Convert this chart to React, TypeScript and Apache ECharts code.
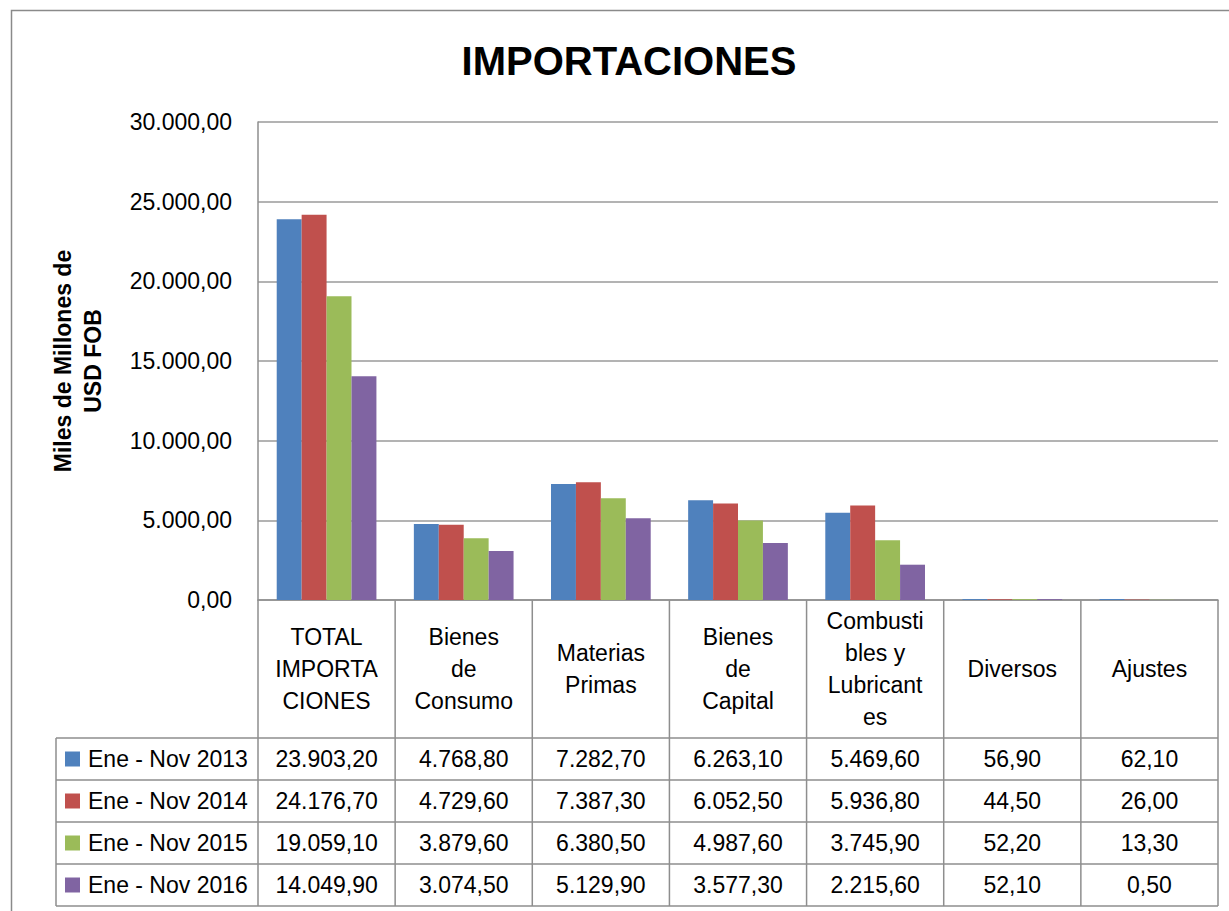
import React, { useEffect, useRef } from "react";
import * as echarts from "echarts";

const categories = [
  "TOTAL\nIMPORTA\nCIONES",
  "Bienes\nde\nConsumo",
  "Materias\nPrimas",
  "Bienes\nde\nCapital",
  "Combusti\nbles y\nLubricant\nes",
  "Diversos",
  "Ajustes",
];
const seriesNames = ["Ene - Nov 2013", "Ene - Nov 2014", "Ene - Nov 2015", "Ene - Nov 2016"];
const v2013 = [23903.2, 4768.8, 7282.7, 6263.1, 5469.6, 56.9, 62.1];
const v2014 = [24176.7, 4729.6, 7387.3, 6052.5, 5936.8, 44.5, 26.0];
const v2015 = [19059.1, 3879.6, 6380.5, 4987.6, 3745.9, 52.2, 13.3];
const v2016 = [14049.9, 3074.5, 5129.9, 3577.3, 2215.6, 52.1, 0.5];
const seriesValues = [v2013, v2014, v2015, v2016];
const colors = ["#4F81BD", "#C0504D", "#9BBB59", "#8064A2"];
const yTicks = { min: 0, max: 30000, interval: 5000 };

const FONT = "'Liberation Sans', Arial, sans-serif";

function fmt(v: number): string {
  const [i, d] = v.toFixed(2).split(".");
  return i.replace(/\B(?=(\d{3})+(?!\d))/g, ".") + "," + d;
}

export default function App() {
  const ref = useRef<HTMLDivElement>(null);
  useEffect(() => {
    if (!ref.current) return;
    const chart = echarts.init(ref.current, undefined, { renderer: "svg" });

    const gLeft = 258;
    const gTop = 122;
    const gWidth = 960;
    const gHeight = 478;
    const gBottom = gTop + gHeight;
    const colW = gWidth / categories.length;
    const catRowBottom = 738;
    const rowH = 42;
    const tableLeft = 56;
    const tableRight = gLeft + gWidth;
    const tableBottom = catRowBottom + rowH * seriesNames.length;
    const lineColor = "#8e8e8e";

    const graphics: any[] = [];
    // outer chart border
    graphics.push({
      type: "rect",
      shape: { x: 11.5, y: 10.5, width: 1300, height: 1000 },
      style: { fill: "none", stroke: "#8a8a8a", lineWidth: 1.5 },
      silent: true,
    });
    graphics.push({
      type: "text",
      x: 629,
      y: 61,
      style: {
        text: "IMPORTACIONES",
        font: `bold 40px ${FONT}`,
        fill: "#000",
        align: "center",
        verticalAlign: "middle",
      },
    });
    graphics.push({
      type: "text",
      x: 78,
      y: 361,
      rotation: Math.PI / 2,
      style: {
        text: "Miles de Millones de\nUSD FOB",
        font: `bold 23px ${FONT}`,
        fill: "#000",
        align: "center",
        verticalAlign: "middle",
        lineHeight: 30,
      },
    });
    // horizontal table lines
    for (let r = 0; r <= seriesNames.length; r++) {
      const y = catRowBottom + r * rowH;
      graphics.push({
        type: "line",
        shape: { x1: tableLeft, y1: y, x2: tableRight, y2: y },
        style: { stroke: lineColor, lineWidth: 1.5 },
        silent: true,
      });
    }
    // vertical table lines
    for (let i = 0; i <= categories.length; i++) {
      const x = gLeft + i * colW;
      graphics.push({
        type: "line",
        shape: { x1: x, y1: gBottom, x2: x, y2: tableBottom },
        style: { stroke: lineColor, lineWidth: 1.5 },
        silent: true,
      });
    }
    graphics.push({
      type: "line",
      shape: { x1: tableLeft, y1: catRowBottom, x2: tableLeft, y2: tableBottom },
      style: { stroke: lineColor, lineWidth: 1.5 },
      silent: true,
    });
    // category labels
    categories.forEach((c, i) => {
      graphics.push({
        type: "text",
        x: gLeft + (i + 0.5) * colW,
        y: (gBottom + catRowBottom) / 2,
        style: {
          text: c,
          font: `23px ${FONT}`,
          fill: "#000",
          align: "center",
          verticalAlign: "middle",
          lineHeight: 32,
        },
      });
    });
    // legend + values
    seriesNames.forEach((name, r) => {
      const cy = catRowBottom + (r + 0.5) * rowH;
      graphics.push({
        type: "rect",
        shape: { x: 65, y: cy - 7.5, width: 15, height: 15 },
        style: { fill: colors[r] },
      });
      graphics.push({
        type: "text",
        x: 88,
        y: cy,
        style: {
          text: name,
          font: `23px ${FONT}`,
          fill: "#000",
          align: "left",
          verticalAlign: "middle",
        },
      });
      seriesValues[r].forEach((v, i) => {
        graphics.push({
          type: "text",
          x: gLeft + (i + 0.5) * colW,
          y: cy,
          style: {
            text: fmt(v),
            font: `23px ${FONT}`,
            fill: "#000",
            align: "center",
            verticalAlign: "middle",
          },
        });
      });
    });

    chart.setOption({
      animation: false,
      backgroundColor: "#fff",
      grid: { left: gLeft, top: gTop, width: gWidth, height: gHeight, containLabel: false },
      xAxis: {
        type: "category",
        data: categories,
        axisLine: { show: true, lineStyle: { color: lineColor, width: 1.5 } },
        axisTick: { show: false },
        axisLabel: { show: false },
        splitLine: { show: false },
      },
      yAxis: {
        type: "value",
        min: yTicks.min,
        max: yTicks.max,
        interval: yTicks.interval,
        axisLine: { show: true, lineStyle: { color: lineColor, width: 1.5 } },
        axisTick: { show: false },
        splitLine: { show: true, lineStyle: { color: "#9a9a9a", width: 1.5 } },
        axisLabel: {
          formatter: (v: number) => fmt(v),
          color: "#000",
          fontSize: 23,
          fontFamily: FONT,
          margin: 26,
        },
      },
      series: seriesNames.map((name, r) => ({
        name,
        type: "bar",
        data: seriesValues[r],
        barGap: "0%",
        barCategoryGap: "27.3%",
        itemStyle: { color: colors[r] },
      })),
      graphic: graphics,
    });
    return () => chart.dispose();
  }, []);
  return (
    <div
      ref={ref}
      style={{ position: "absolute", left: 0, top: 0, width: 1229, height: 911 }}
    />
  );
}
